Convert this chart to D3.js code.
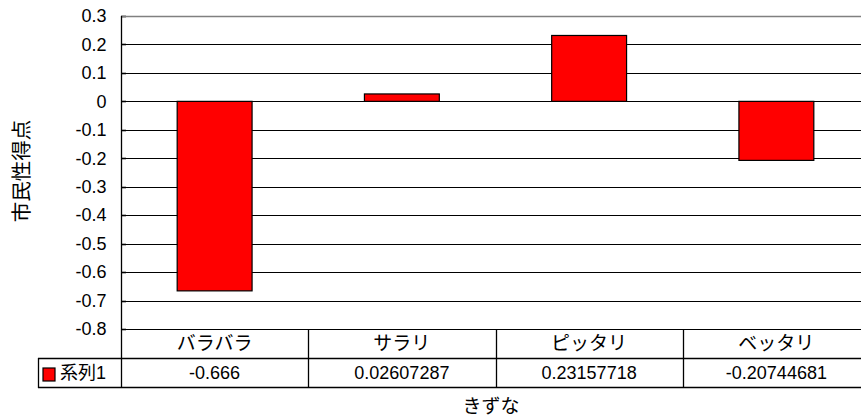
<!DOCTYPE html>
<html>
<head>
<meta charset="utf-8">
<script src="https://cdn.jsdelivr.net/npm/d3@7/dist/d3.min.js"></script>
<style>
  html, body { margin: 0; padding: 0; background: #fff; }
  svg { display: block; }
  text { font-family: "Liberation Sans", Arial, "Noto Sans CJK JP", sans-serif; fill: #000; }
  .jp { font-family: "Noto Sans CJK JP", sans-serif; }
</style>
</head>
<body>
<svg id="chart" width="861" height="419"></svg>
<script>
// Series data
const categories = ["バラバラ", "サラリ", "ピッタリ", "ベッタリ"];
const values = [-0.666, 0.02607287, 0.23157718, -0.20744681];
const seriesName = "系列1";
const yTicks = [0.3, 0.2, 0.1, 0, -0.1, -0.2, -0.3, -0.4, -0.5, -0.6, -0.7, -0.8];
const xTitle = "きずな";
const yTitle = "市民性得点";

const svg = d3.select("#chart");

const plot = { left: 121, right: 870, top: 16, bottom: 329 };
const rowH = 29;
const tableLeft = 38;

const x = d3.scaleBand()
  .domain(categories)
  .range([plot.left, plot.right])
  .paddingInner(0)
  .paddingOuter(0);

const y = d3.scaleLinear()
  .domain([d3.min(yTicks), d3.max(yTicks)])
  .range([plot.bottom, plot.top]);

// gridlines
svg.append("g")
  .selectAll("line")
  .data(yTicks.filter(t => t !== d3.max(yTicks)))
  .join("line")
  .attr("x1", plot.left).attr("x2", plot.right)
  .attr("y1", d => Math.round(y(d)) + 0.5).attr("y2", d => Math.round(y(d)) + 0.5)
  .attr("stroke", "#000").attr("stroke-width", 1.2);

// short inner tick marks on the value axis
svg.append("g")
  .selectAll("line")
  .data(yTicks)
  .join("line")
  .attr("x1", plot.left).attr("x2", plot.left + 5)
  .attr("y1", d => Math.round(y(d)) + 0.5).attr("y2", d => Math.round(y(d)) + 0.5)
  .attr("stroke", "#000").attr("stroke-width", 1.6);

// top border of plot area
svg.append("line")
  .attr("x1", plot.left).attr("x2", plot.right)
  .attr("y1", Math.round(y(d3.max(yTicks))) + 0.5).attr("y2", Math.round(y(d3.max(yTicks))) + 0.5)
  .attr("stroke", "#808080").attr("stroke-width", 1.5);

// bars
const barW = x.bandwidth() * 0.4;
svg.append("g")
  .selectAll("rect")
  .data(categories.map((c, i) => ({ c, v: values[i] })))
  .join("rect")
  .attr("x", d => x(d.c) + (x.bandwidth() - barW) / 2)
  .attr("width", barW)
  .attr("y", d => y(Math.max(0, d.v)))
  .attr("height", d => Math.abs(y(d.v) - y(0)))
  .attr("fill", "#ff0000")
  .attr("stroke", "#000")
  .attr("stroke-width", 1.2);

// y axis
const yAxis = d3.axisLeft(y)
  .tickValues(yTicks)
  .tickSize(0)
  .tickPadding(15)
  .tickFormat(d => d === 0 ? "0" : d.toFixed(1));
const ya = svg.append("g")
  .attr("transform", `translate(${plot.left + 0.5},0)`)
  .call(yAxis);
ya.select(".domain").remove();
ya.selectAll("text")
  .style("font-family", '"Liberation Sans", Arial, sans-serif')
  .style("font-size", "18px")
  .attr("fill", "#000");

// axis line through table
svg.append("line")
  .attr("x1", plot.left + 0.5).attr("x2", plot.left + 0.5)
  .attr("y1", plot.top).attr("y2", plot.bottom + 2 * rowH + 1)
  .attr("stroke", "#000").attr("stroke-width", 1.3);

// data table
const row1 = plot.bottom, row2 = plot.bottom + rowH, row3 = plot.bottom + 2 * rowH;
const tbl = svg.append("g").attr("stroke", "#000").attr("stroke-width", 1.3);
[row2, row3].forEach(r => {
  tbl.append("line")
    .attr("x1", tableLeft).attr("x2", plot.right)
    .attr("y1", r + 0.5).attr("y2", r + 0.5);
});
tbl.append("line")
  .attr("x1", tableLeft + 0.5).attr("x2", tableLeft + 0.5)
  .attr("y1", row2).attr("y2", row3 + 1);
tbl.selectAll("line.col")
  .data(categories.slice(1))
  .join("line")
  .attr("class", "col")
  .attr("x1", d => Math.round(x(d)) + 0.5).attr("x2", d => Math.round(x(d)) + 0.5)
  .attr("y1", row1).attr("y2", row3 + 1);

// category labels
svg.append("g")
  .selectAll("text")
  .data(categories)
  .join("text")
  .attr("class", "jp")
  .attr("x", d => x(d) + x.bandwidth() / 2)
  .attr("y", row1 + rowH / 2)
  .attr("dy", "0.36em")
  .attr("text-anchor", "middle")
  .style("font-size", "19px")
  .text(d => d);

// value labels
svg.append("g")
  .selectAll("text")
  .data(categories.map((c, i) => ({ c, v: values[i] })))
  .join("text")
  .attr("x", d => x(d.c) + x.bandwidth() / 2)
  .attr("y", row2 + rowH / 2)
  .attr("dy", "0.36em")
  .attr("text-anchor", "middle")
  .style("font-size", "18px")
  .text(d => String(d.v));

// legend key in the table
svg.append("rect")
  .attr("x", 43).attr("y", row2 + 10)
  .attr("width", 12).attr("height", 13)
  .attr("fill", "#ff0000").attr("stroke", "#000").attr("stroke-width", 1.2);
svg.append("text")
  .attr("x", 60).attr("y", row2 + rowH / 2)
  .attr("dy", "0.36em")
  .style("font-size", "18px")
  .text(seriesName);

// axis titles
svg.append("text")
  .attr("class", "jp")
  .attr("x", 491).attr("y", 406)
  .attr("dy", "0.36em")
  .attr("text-anchor", "middle")
  .style("font-size", "19px")
  .text(xTitle);

svg.append("text")
  .attr("class", "jp")
  .attr("transform", "translate(22,171) rotate(-90)")
  .attr("dy", "0.36em")
  .attr("text-anchor", "middle")
  .style("font-size", "20.5px")
  .text(yTitle);
</script>
</body>
</html>
